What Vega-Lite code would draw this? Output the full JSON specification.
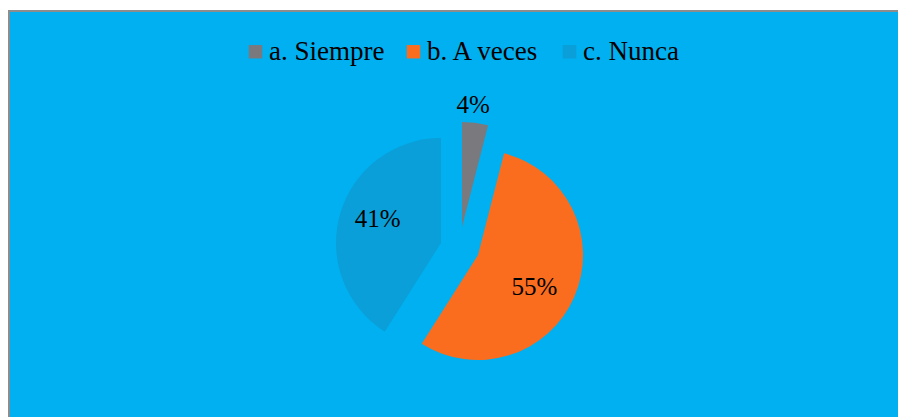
{
  "$schema": "https://vega.github.io/schema/vega-lite/v6.json",
  "autosize": {"type": "none"},
  "width": 920,
  "height": 470,
  "padding": {"left": 9, "top": 11, "right": -31, "bottom": -64},
  "background": "#FFFFFF",
  "view": {"fill": "#00B0F0", "stroke": "#8D8D8D", "strokeWidth": 2},
  "config": {
    "font": "Liberation Serif"
  },
  "data": {
    "values": [
      {"cat": "a. Siempre", "value": 0.04},
      {"cat": "b. A veces", "value": 0.55},
      {"cat": "c. Nunca", "value": 0.41}
    ]
  },
  "encoding": {
    "theta": {"field": "value", "type": "quantitative", "stack": true},
    "order": {"field": "cat", "sort": "ascending"},
    "color": {
      "field": "cat",
      "type": "nominal",
      "scale": {"domain": ["a. Siempre", "b. A veces", "c. Nunca"], "range": ["#7A7A7E", "#FA6D1E", "#0A9FD9"]},
      "legend": {
        "title": null,
        "orient": "none",
        "direction": "horizontal",
        "legendX": 233,
        "legendY": 27,
        "symbolType": "square",
        "symbolSize": 180,
        "symbolStrokeWidth": 0,
        "labelFont": "Liberation Serif",
        "labelFontSize": 27,
        "labelColor": "#000000",
        "labelOffset": 0,
        "columnPadding": 15,
        "labelLimit": 300
      }
    }
  },
  "layer": [
    {
      "mark": {
        "type": "arc",
        "outerRadius": 105,
        "xOffset": {"expr": "datum.cat == 'a. Siempre' ? -7 : datum.cat == 'b. A veces' ? 9 : -28"},
        "yOffset": {"expr": "datum.cat == 'a. Siempre' ? -19 : datum.cat == 'b. A veces' ? 9 : -3"}
      }
    },
    {
      "mark": {
        "type": "text",
        "font": "Liberation Serif",
        "fontSize": 25,
        "color": "#000000",
        "radius": {"expr": "datum.cat == 'a. Siempre' ? 121 : 67"},
        "xOffset": {"expr": "datum.cat == 'a. Siempre' ? -7 : datum.cat == 'b. A veces' ? 9 : -28"},
        "yOffset": {"expr": "datum.cat == 'a. Siempre' ? -19 : datum.cat == 'b. A veces' ? 9 : -3"},
        "dx": {"expr": "datum.cat == 'a. Siempre' ? -4 : datum.cat == 'b. A veces' ? -5 : 1"},
        "dy": {"expr": "datum.cat == 'a. Siempre' ? -1.5 : datum.cat == 'b. A veces' ? 5.5 : -5"}
      },
      "encoding": {
        "text": {"field": "value", "type": "quantitative", "format": ".0%"},
        "color": {"value": "#000000"}
      }
    }
  ]
}
